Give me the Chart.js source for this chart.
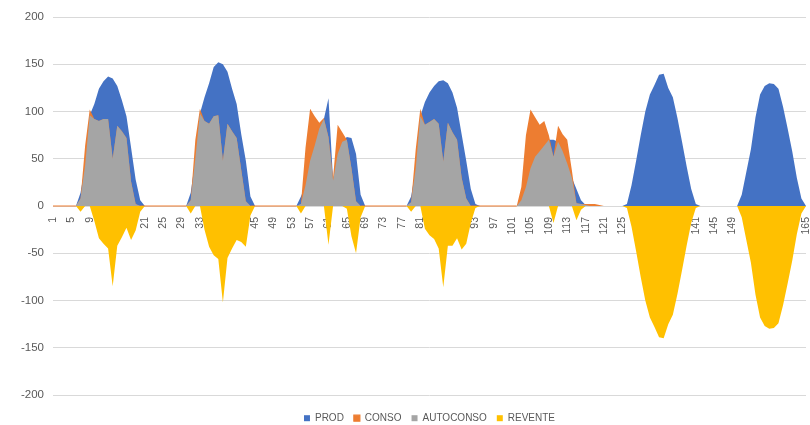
<!DOCTYPE html>
<html>
<head>
<meta charset="utf-8">
<script src="https://cdn.jsdelivr.net/npm/chart.js@4.4.1/dist/chart.umd.min.js"></script>
<style>
  html, body { margin: 0; padding: 0; background: #fff; }
  #wrap { width: 810px; height: 425px; position: relative; }
</style>
</head>
<body>
<div id="wrap"><canvas id="energyChart"></canvas></div>
<script>
// hour index (1 point per hour, 7 days)
const hours = [
  1,2,3,4,5,6,7,8,9,10,11,12,13,14,15,16,17,18,19,20,21,22,23,24,
  25,26,27,28,29,30,31,32,33,34,35,36,37,38,39,40,41,42,43,44,45,46,47,48,
  49,50,51,52,53,54,55,56,57,58,59,60,61,62,63,64,65,66,67,68,69,70,71,72,
  73,74,75,76,77,78,79,80,81,82,83,84,85,86,87,88,89,90,91,92,93,94,95,96,
  97,98,99,100,101,102,103,104,105,106,107,108,109,110,111,112,113,114,115,116,117,118,119,120,
  121,122,123,124,125,126,127,128,129,130,131,132,133,134,135,136,137,138,139,140,141,142,143,144,
  145,146,147,148,149,150,151,152,153,154,155,156,157,158,159,160,161,162,163,164,165
];

const prod = [
  0,0,0,0,0,0,14,43,96,108,124,132,137,135,127,112,95,62,28,6,0,0,0,0,
  0,0,0,0,0,0,14,50,98,115,130,147,152,150,142,124,108,76,48,10,0,0,0,0,
  0,0,0,0,0,0,10,22,48,64,82,92,114,27,55,68,73,72,55,12,0,0,0,0,
  0,0,0,0,0,0,10,40,95,110,120,127,132,133,130,120,104,76,48,18,2,0,0,0,
  0,0,0,0,0,0,6,20,40,52,58,64,70,70,68,58,45,30,18,6,1,0,0,0,
  0,0,0,0,0,2,22,48,75,100,118,128,139,140,125,115,93,68,42,18,2,0,0,0,
  0,0,0,0,0,0,12,36,60,94,118,127,130,129,124,105,82,58,30,8,0
];

const conso = [
  0,0,0,0,0,0,8,64,102,92,90,92,92,50,85,79,72,26,2,0,0,0,0,0,
  0,0,0,0,0,0,6,70,103,90,87,95,96,48,87,79,72,38,5,0,0,0,0,0,
  0,0,0,0,0,0,2,62,103,95,88,93,73,30,86,78,70,40,5,0,0,0,0,0,
  0,0,0,0,0,0,4,60,103,86,89,92,87,47,88,78,70,30,8,0,0,0,0,0,
  0,0,0,0,0,0,20,75,102,94,86,90,75,52,85,76,70,38,3,2,2,2,2,1,
  0,null,null,null,null,null,null,null,null,null,null,null,null,null,null,null,null,null,null,null,null,null,null,null,
  null,null,null,null,null,null,null,null,null,null,null,null,null,null,null,null,null,null,null,null,null
];

const autoconso = [
  0,0,0,0,0,0,8,43,96,92,90,92,92,50,85,79,72,26,2,0,0,0,0,0,
  0,0,0,0,0,0,6,50,98,90,87,95,96,48,87,79,72,38,5,0,0,0,0,0,
  0,0,0,0,0,0,2,22,48,64,82,92,73,27,55,68,70,40,5,0,0,0,0,0,
  0,0,0,0,0,0,4,40,95,86,89,92,87,47,88,78,70,30,8,0,0,0,0,0,
  0,0,0,0,0,0,6,20,40,52,58,64,70,52,68,58,45,30,3,2,1,0,0,0,
  0,0,0,0,0,0,0,0,0,0,0,0,0,0,0,0,0,0,0,0,0,0,0,0,
  0,0,0,0,0,0,0,0,0,0,0,0,0,0,0,0,0,0,0,0,0
];

const revente = [
  0,0,0,0,0,0,-6,0,0,-16,-34,-40,-45,-85,-42,-33,-23,-36,-26,-6,0,0,0,0,
  0,0,0,0,0,0,-8,0,0,-25,-43,-52,-56,-102,-55,-45,-36,-38,-43,-10,0,0,0,0,
  0,0,0,0,0,0,-8,0,0,0,0,0,-41,0,0,0,-3,-32,-50,-12,0,0,0,0,
  0,0,0,0,0,0,-6,0,0,-24,-31,-35,-45,-86,-42,-42,-34,-46,-40,-18,-2,0,0,0,
  0,0,0,0,0,0,0,0,0,0,0,0,0,-18,0,0,0,0,-15,-4,0,0,0,0,
  0,0,0,0,0,-2,-22,-48,-75,-100,-118,-128,-139,-140,-125,-115,-93,-68,-42,-18,-2,0,0,0,
  0,0,0,0,0,0,-12,-36,-60,-94,-118,-127,-130,-129,-124,-105,-82,-58,-30,-8,0
];

const BLUE = "#4472C4";
const ORANGE = "#ED7D31";
const GREY = "#A5A5A5";
const YELLOW = "#FFC000";
const NONE = "rgba(0,0,0,0)";
const FONT = "'Liberation Sans', Arial, sans-serif";

const ctx = document.getElementById("energyChart").getContext("2d");

new Chart(ctx, {
  type: "line",
  data: {
    labels: hours,
    datasets: [
      { label: "PROD", data: prod, backgroundColor: BLUE, borderColor: NONE, borderWidth: 0, fill: "origin", order: 3 },
      {
        label: "CONSO", data: conso, backgroundColor: ORANGE, borderColor: ORANGE, borderWidth: 1.2, fill: "origin", order: 2,
        // only the flat zero stretches show a line, like the reference
        segment: { borderColor: c => (c.p0.parsed.y === 0 && c.p1.parsed.y === 0) ? ORANGE : NONE }
      },
      { label: "AUTOCONSO", data: autoconso, backgroundColor: GREY, borderColor: NONE, borderWidth: 0, fill: "origin", order: 1 },
      { label: "REVENTE", data: revente, backgroundColor: YELLOW, borderColor: NONE, borderWidth: 0, fill: "origin", order: 0 }
    ]
  },
  options: {
    responsive: true,
    maintainAspectRatio: false,
    animation: false,
    layout: { padding: { top: 17, right: 4, bottom: 0, left: 0 } },
    elements: { point: { radius: 0 }, line: { tension: 0 } },
    plugins: {
      tooltip: { enabled: false },
      legend: {
        position: "bottom",
        fullSize: false,
        maxHeight: 30,
        // empty title only used to push the legend row down a bit
        title: { display: true, text: " ", font: { size: 1 }, padding: { top: 0, bottom: 7 } },
        labels: {
          boxWidth: 6,
          boxHeight: 6,
          padding: 10,
          color: "#595959",
          font: { family: FONT, size: 10 },
          sort: (a, b) => a.datasetIndex - b.datasetIndex
        }
      }
    },
    scales: {
      x: {
        position: { y: 0 },
        z: 1,
        afterFit: s => { s.paddingLeft = 0; s.paddingRight = 0; },
        grid: { display: false },
        border: { display: false },
        ticks: {
          autoSkip: false,
          minRotation: 90,
          maxRotation: 90,
          padding: 3,
          color: "#595959",
          font: { family: FONT, size: 10.5 },
          callback: function (val, i) {
            return i % 4 === 0 ? this.getLabelForValue(val) : null;
          }
        }
      },
      y: {
        min: -200,
        max: 200,
        afterFit: s => { s.width = 53; },
        grid: { color: "#d9d9d9", drawTicks: false },
        border: { display: false },
        ticks: {
          stepSize: 50,
          padding: 9,
          color: "#595959",
          font: { family: FONT, size: 11.5 }
        }
      }
    }
  }
});
</script>
</body>
</html>
